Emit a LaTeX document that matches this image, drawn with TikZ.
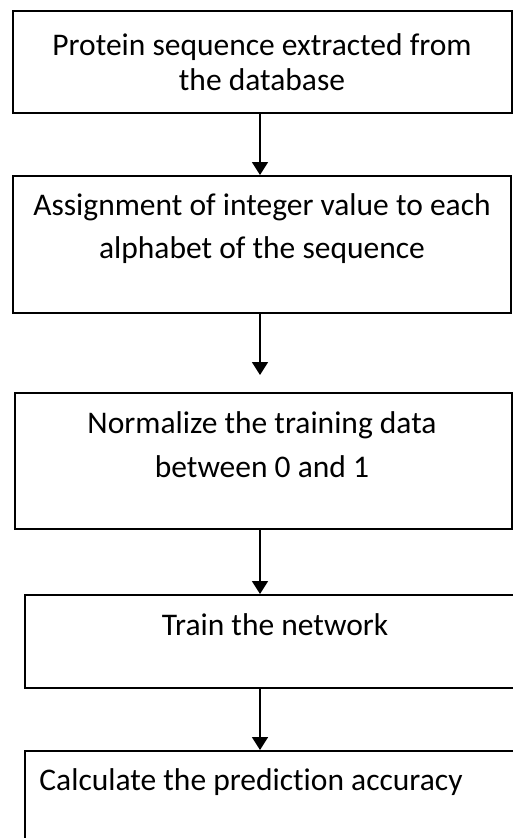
\documentclass[tikz,border=0pt]{standalone}
\usepackage{fontspec}
\setmainfont{Carlito}[Ligatures=NoCommon]
\usetikzlibrary{arrows.meta}
\begin{document}
\begin{tikzpicture}[x=1pt,y=-1pt,
  box/.style={draw=black, line width=2pt, inner sep=0pt, anchor=north west},
  lbl/.style={anchor=base, inner sep=0pt, font=\fontsize{31.5}{38}\selectfont},
  arr/.style={line width=1.7pt, -{Triangle[width=16pt,length=13pt]}}]
\useasboundingbox (0,0) rectangle (512,838);
% boxes
\node[box, minimum width=499pt, minimum height=102pt] (b1) at (12,10) {};
\node[box, minimum width=498pt, minimum height=137pt] (b2) at (12,175) {};
\node[box, minimum width=497pt, minimum height=136pt] (b3) at (14,392) {};
\node[box, minimum width=510pt, minimum height=93pt] (b4) at (24,594) {};
\node[box, minimum width=510pt, minimum height=110pt] (b5) at (24,750) {};
% texts
\node[lbl] (t1a) at (262,55) {Protein sequence extracted from};
\node[lbl] (t1b) at (262,90) {the database};
\node[lbl] (t2a) at (262,215) {Assignment of integer value to each};
\node[lbl] (t2b) at (262,258) {alphabet of the sequence};
\node[lbl] (t3a) at (262,433) {Normalize the training data};
\node[lbl] (t3b) at (262,477) {between 0 and 1};
\node[lbl] (t4) at (275,635) {Train the network};
\node[lbl] (t5) at (251,790) {Calculate the prediction accuracy};
% arrows
\coordinate (ax) at (260,0);
\coordinate (e2) at (260,375);
\draw[arr] (b1.south -| ax) -- (b2.north -| ax);
\draw[arr] (b2.south -| ax) -- (e2);
\draw[arr] (b3.south -| ax) -- (b4.north -| ax);
\draw[arr] (b4.south -| ax) -- (b5.north -| ax);
\end{tikzpicture}
\end{document}
